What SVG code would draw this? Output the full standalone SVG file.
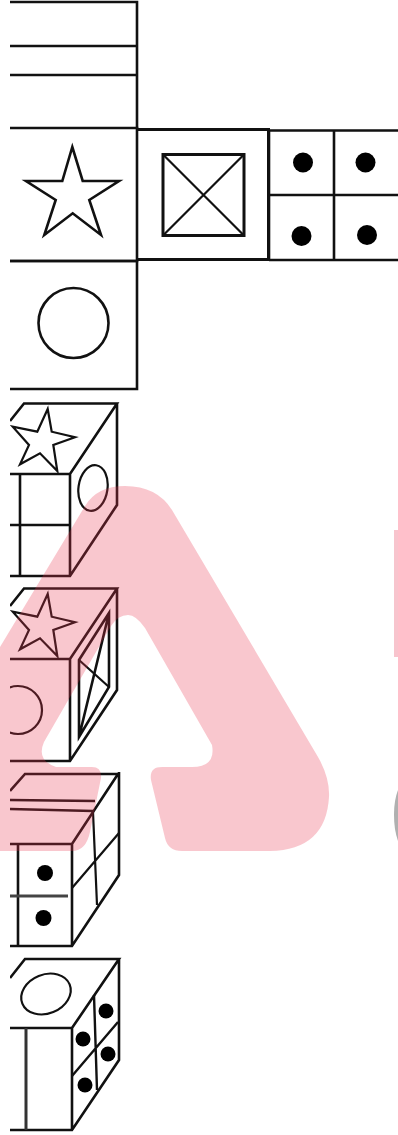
<svg xmlns="http://www.w3.org/2000/svg" width="398" height="1135" viewBox="0 0 398 1135">
<style>
.l{fill:none;stroke:#111;stroke-width:2.600;stroke-linejoin:miter}
.t{fill:none;stroke:#111;stroke-width:2.200}
.d{fill:#000}
.w{fill:#e8364f;fill-opacity:.28}
</style>
<defs>
<clipPath id="c"><rect x="10" y="0" width="388" height="1135"/></clipPath>
</defs>
<rect width="398" height="1135" fill="#fff"/>
<g clip-path="url(#c)">
<g id="net-top"><path class="l" d="M10 2H137V128M10 46H137M10 75H137"/></g>
<g id="net-star"><path class="l" d="M10 128H137V261H10"/><path class="t" style="stroke-width:2.600" d="M72.300 147L82.700 181H119L89.300 200L101 235L72.700 213.300L44.300 235L55.700 200L26 181H62.300Z"/></g>
<g id="net-circle"><path class="l" d="M10 261H137V389H10"/><circle class="t" style="stroke-width:2.600" cx="73.500" cy="323" r="35"/></g>
<g id="net-cross"><path class="l" style="stroke-width:3" d="M137 129.500H268.500V259.500H137"/><rect class="l" style="stroke-width:3" x="163" y="154.500" width="81" height="81"/><path class="t" d="M163 154.500L244 235.500M244 154.500L163 235.500"/></g>
<g id="net-dots"><path class="l" d="M269 130.500H398M269 260H398M269 195H398M334 130V260M269 130V260"/><circle class="d" cx="303" cy="162.500" r="10"/><circle class="d" cx="365.500" cy="162.500" r="10"/><circle class="d" cx="301.500" cy="236" r="10"/><circle class="d" cx="367" cy="235" r="10"/></g>
<g id="cube-1"><path class="l" d="M10 421L24 403.500H117L70 474H10M117 403V505L70 576H10M70 474V576M20 474V576M10 525H70"/><path class="t" d="M47.700 409L51.700 431.700L75 437.300L53.300 445L57.300 471L40 453.300L20 464.300L29 445L12.700 426.700L37.300 431.700Z"/><ellipse class="t" cx="93" cy="488" rx="14.500" ry="23" transform="rotate(8 93 488)"/></g>
<g id="cube-2"><path class="l" d="M10 606L24 588.500H117L70 659H10M117 588V690L70 761H10M70 659V761"/><path class="t" d="M47.700 594L51.700 616.700L75 622.300L53.300 630L57.300 656L40 638.300L20 649.300L29 630L12.700 611.700L37.300 616.700Z"/><circle class="t" cx="18" cy="710" r="24"/><path class="t" style="stroke-width:2.600" d="M79 660L109 613V687L79 737ZM79 737L109 613"/><path class="t" d="M79 660L109 687"/></g>
<g id="cube-3"><path class="l" d="M10 791L25 774H118L72 844H10M119 772V875L72 946H10M72 844V946M18 844V946"/><path class="l" style="stroke:#444;stroke-width:3" d="M10 896H68"/><path class="t" style="stroke-width:2.600" d="M10 800L95 801M10 809L93 811"/><path class="t" d="M72 888L119 833M93 812L97 905"/><circle class="d" cx="45" cy="873" r="8"/><circle class="d" cx="43.500" cy="918" r="8"/></g>
<g id="cube-4"><path class="l" d="M10 978L25 959H119L72 1028H10M119 958V1060L72 1130H10M72 1028V1130"/><path class="l" style="stroke:#333;stroke-width:3" d="M26 1028V1130"/><path class="t" style="stroke-width:2.400" d="M72 1076L118 1022M94 995L97 1090"/><ellipse class="t" cx="46" cy="994" rx="25.500" ry="19.500" transform="rotate(-22 46 994)"/><circle class="d" cx="83" cy="1039" r="7.500"/><circle class="d" cx="106" cy="1011" r="7.500"/><circle class="d" cx="108" cy="1054" r="7.500"/><circle class="d" cx="85" cy="1085" r="7.500"/></g>
</g>
<g id="watermark">
<path class="w" d="M0 647L85 506Q97 486 125 486Q157 486 172 510L318 757Q330 778 329 797Q326 850 270 851H182Q168 851 165 838L151 780Q149 767 162 767H192Q216 767 212 745L145 628Q136 615 128 615Q118 615 111 626L44 742Q36 760 56 767H92Q102 767 101 778L90 832Q86 851 72 851H0Z"/>
<rect x="394" y="530" width="4" height="127" fill="#f8c4cd"/>
<path d="M398 790Q394 800 394 815Q394 830 398 841Z" fill="#b0b0b0"/>
</g>
</svg>
